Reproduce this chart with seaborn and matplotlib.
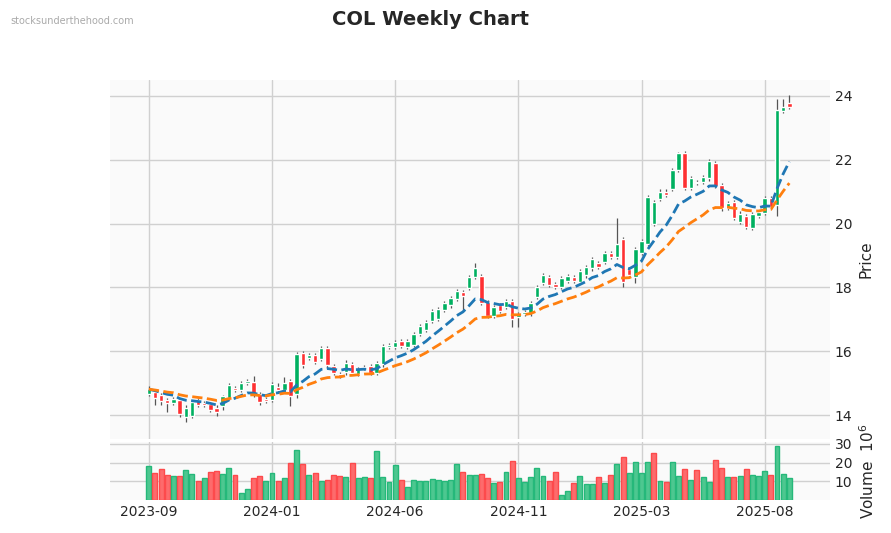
import numpy as np
import pandas as pd
import matplotlib
matplotlib.use("Agg")
import matplotlib.pyplot as plt
import seaborn as sns

opens = [14.68,14.71,14.60,14.47,14.40,14.45,13.95,14.00,14.47,14.37,14.34,14.22,14.30,14.55,14.84,14.79,15.03,15.02,14.63,14.50,
         14.48,14.86,14.81,15.05,14.67,15.94,15.80,15.87,15.77,16.09,15.52,15.28,15.35,15.57,15.30,15.48,15.52,15.33,15.60,16.15,
         16.14,16.30,16.14,16.20,16.56,16.69,16.95,17.03,17.31,17.45,17.65,17.83,17.99,18.35,18.33,17.54,17.13,17.44,17.39,17.55,
         17.10,17.18,17.20,17.71,18.15,18.30,18.09,18.04,18.23,18.30,18.20,18.39,18.61,18.75,18.82,19.06,18.96,19.50,18.56,18.35,
         19.10,19.38,19.99,20.78,20.99,21.10,21.70,22.20,21.14,21.30,21.33,21.43,21.87,21.19,20.51,20.65,20.07,20.23,19.89,20.26,
         20.35,20.78,20.60,23.55,23.77]
closes = [14.81,14.55,14.45,14.40,14.50,14.05,14.22,14.38,14.32,14.32,14.18,14.10,14.58,14.94,14.79,15.00,15.06,14.66,14.42,14.47,
          14.97,14.81,15.00,14.62,15.90,15.57,15.87,15.67,16.08,15.57,15.33,15.25,15.63,15.33,15.44,15.50,15.33,15.61,16.15,16.17,
          16.27,16.17,16.30,16.53,16.77,16.90,17.24,17.30,17.50,17.66,17.88,17.76,18.30,18.60,17.52,17.12,17.36,17.28,17.56,17.02,
          17.15,17.21,17.49,17.99,18.38,18.09,18.04,18.27,18.34,18.23,18.49,18.61,18.87,18.65,19.06,18.96,19.34,18.20,18.40,19.19,
          19.43,20.83,20.65,20.99,20.92,21.65,22.19,21.14,21.40,21.30,21.43,21.94,21.19,20.49,20.63,20.18,20.30,19.92,20.28,20.35,
          20.78,20.54,23.56,23.65,23.67]
highs_extra = {0:0.1,1:0.05,5:0.05,12:0.05,17:0.2,18:0.1,21:0.15,22:0.2,28:0.1,53:0.17,76:0.85,86:0.05,102:0.35,103:0.25,104:0.25}
lows_extra = {1:0.24,2:0.15,3:0.3,5:0.1,6:0.18,11:0.12,12:0.13,18:0.1,23:0.35,24:0.12,51:0.5,59:0.25,60:0.35,77:0.2,79:0.2,102:0.35}
volumes = [18.2,14.4,16.7,13.1,12.6,12.6,16.2,14.1,10.0,11.5,15.1,15.6,14.1,17.2,13.1,3.8,5.9,11.5,12.6,10.0,
           14.6,10.0,11.5,19.7,26.9,19.2,13.1,14.6,10.0,10.5,13.1,12.6,12.1,19.7,11.5,
           12.1,11.5,26.4,12.1,9.5,18.7,10.5,6.9,10.5,10.0,10.0,11.0,10.5,10.0,10.5,19.2,15.1,13.6,13.6,14.1,11.5,9.0,9.5,15.1,20.8,
           11.5,9.5,12.1,17.2,12.6,10.0,15.1,2.8,4.9,9.0,12.6,8.5,8.5,12.1,
           9.0,13.1,19.2,22.8,14.6,20.3,14.6,20.3,24.9,10.0,9.5,20.3,12.6,16.7,10.5,16.2,12.1,9.5,21.3,17.2,
           12.1,12.1,12.6,16.7,13.1,12.6,15.6,13.6,29.0,14.1,11.5]
dates = pd.date_range("2023-09-11", periods=len(closes), freq="7D")
tick_labels = ["2023-09", "2024-01", "2024-06", "2024-11", "2025-03", "2025-08"]

n = len(closes)
idx = np.arange(n)
o = np.array(opens); c = np.array(closes); v = np.array(volumes)
hi = np.maximum(o, c) + np.array([highs_extra.get(i, 0.08) for i in idx])
lo = np.minimum(o, c) - np.array([lows_extra.get(i, 0.08) for i in idx])
df = pd.DataFrame({"i": idx, "close": c})
df["ema10"] = df["close"].ewm(span=10, adjust=False).mean()
df["ema20"] = df["close"].ewm(span=20, adjust=False).mean()

sns.set_style("whitegrid")
UP, DN = "#00b060", "#fe3032"
fig = plt.figure(figsize=(8.91, 5.33), dpi=100)
ax = fig.add_axes([110/891, 1-439/533, 720/891, 359/533])
axv = fig.add_axes([110/891, 1-500/533, 720/891, 58/533], sharex=ax)
for a in (ax, axv):
    a.set_facecolor("#fafafa")
    for s in a.spines.values():
        s.set_visible(False)
    a.grid(True, color="#d0d0d0", lw=1)
    a.yaxis.tick_right(); a.yaxis.set_label_position("right")

up = c >= o
cols = np.where(up, UP, DN)
ax.vlines(idx, lo, hi, color="#555555", lw=0.9, zorder=2)
ax.bar(idx, np.abs(c - o) + 0.03, bottom=np.minimum(o, c) - 0.015, width=0.72, color=cols, zorder=3)
sns.lineplot(data=df, x="i", y="ema10", ax=ax, color="#1f77b4", lw=2, linestyle="--", zorder=4)
sns.lineplot(data=df, x="i", y="ema20", ax=ax, color="#ff7f0e", lw=2, linestyle="--", zorder=4)
ax.set_ylim(13.25, 24.5)
ax.set_yticks([14, 16, 18, 20, 22, 24])
ax.set_ylabel("Price", fontsize=11)
ax.set_xlabel("")
ax.tick_params(axis="x", labelbottom=False, length=0)
ax.tick_params(axis="y", length=0, labelsize=10)

prev = np.concatenate([[c[0]], c[:-1]])
vcols = np.where(c >= prev, "#4dc790", "#fd6b6c")
vedge = np.where(c >= prev, "#25b87a", "#fd4a4c")
axv.bar(idx, v, width=0.8, color=vcols, edgecolor=vedge, lw=1)
axv.set_ylim(0, 31)
axv.set_yticks([10, 20, 30])
axv.set_ylabel("Volume  $10^{6}$", fontsize=11)
axv.set_xlim(-6.3, 110.6)
axv.set_xticks(np.arange(0, n, 20))
axv.set_xticklabels(tick_labels)
axv.tick_params(length=0, labelsize=10)

fig.suptitle("COL Weekly Chart", fontsize=14, fontweight="bold", x=0.483, y=0.982)
fig.text(0.012, 0.955, "stocksunderthehood.com", fontsize=7, color="#aaaaaa")
fig.savefig("out.png", dpi=100)
